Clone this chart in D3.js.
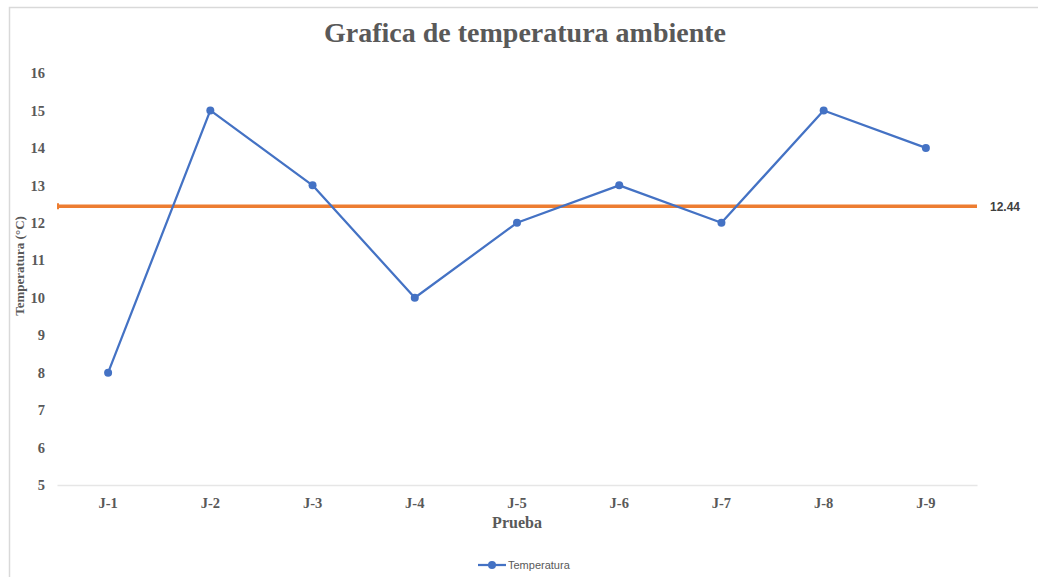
<!doctype html>
<html lang="es">
<head>
	<meta charset="UTF-8">
	<title>Grafica de temperatura ambiente</title>
	<script src="https://d3js.org/d3.v7.min.js"></script>
	<style>
		body { margin: 0; padding: 0; background: #fff; }
		svg { display: block; }
	</style>
</head>
<body>
	<div id="chart"></div>
	<script>
		// Data
		const categories = ['J-1', 'J-2', 'J-3', 'J-4', 'J-5', 'J-6', 'J-7', 'J-8', 'J-9'];
		const temperatures = [8, 15, 13, 10, 12, 13, 12, 15, 14];
		const average = [12.44];
		const yTicks = [5, 6, 7, 8, 9, 10, 11, 12, 13, 14, 15, 16];

		const width = 1038;
		const height = 577;
		const margin = { top: 73, right: 61, bottom: 92, left: 57 };

		const blue = '#4472C4';
		const orange = '#ED7D31';
		const serif = '"Liberation Serif", "Times New Roman", serif';
		const sans = '"Liberation Sans", Arial, sans-serif';

		const svg = d3.select('#chart')
			.append('svg')
			.attr('width', width)
			.attr('height', height);

		// Chart area frame (right and bottom fall outside the picture)
		svg.append('rect')
			.attr('x', 9.5)
			.attr('y', 7.5)
			.attr('width', width + 20)
			.attr('height', height + 20)
			.attr('fill', '#fff')
			.attr('stroke', '#d9d9d9')
			.attr('stroke-width', 1.5);

		const x = d3.scaleBand()
			.domain(categories)
			.range([margin.left, width - margin.right]);

		const y = d3.scaleLinear()
			.domain([5, 16])
			.range([height - margin.bottom, margin.top]);

		// Title
		svg.append('text')
			.attr('x', 525)
			.attr('y', 42)
			.attr('text-anchor', 'middle')
			.attr('font-family', serif)
			.attr('font-weight', 'bold')
			.attr('font-size', 28)
			.attr('fill', '#595959')
			.text('Grafica de temperatura ambiente');

		// X axis
		const xAxis = svg.append('g')
			.attr('transform', 'translate(0,' + y(5) + ')')
			.call(d3.axisBottom(x).tickSize(0).tickPadding(13));
		xAxis.select('.domain').attr('stroke', '#e6e6e6').attr('stroke-width', 1.5);
		xAxis.selectAll('text')
			.attr('font-family', serif)
			.attr('font-weight', 'bold')
			.attr('font-size', 14.5)
			.attr('fill', '#595959');

		// Y axis
		const yAxis = svg.append('g')
			.attr('transform', 'translate(' + margin.left + ',0)')
			.call(d3.axisLeft(y).tickValues(yTicks).tickSize(0).tickPadding(12));
		yAxis.select('.domain').remove();
		yAxis.selectAll('text')
			.attr('font-family', serif)
			.attr('font-weight', 'bold')
			.attr('font-size', 14.5)
			.attr('fill', '#595959');

		// Axis titles
		svg.append('text')
			.attr('transform', 'translate(24,' + 266 + ') rotate(-90)')
			.attr('text-anchor', 'middle')
			.attr('font-family', serif)
			.attr('font-weight', 'bold')
			.attr('font-size', 13)
			.attr('fill', '#595959')
			.text('Temperatura (°C)');

		svg.append('text')
			.attr('x', 517)
			.attr('y', 528)
			.attr('text-anchor', 'middle')
			.attr('font-family', serif)
			.attr('font-weight', 'bold')
			.attr('font-size', 16)
			.attr('fill', '#595959')
			.text('Prueba');

		// Average line
		svg.selectAll('.avg')
			.data(average)
			.enter().append('line')
			.attr('class', 'avg')
			.attr('x1', margin.left)
			.attr('x2', width - margin.right)
			.attr('y1', (d) => y(d))
			.attr('y2', (d) => y(d))
			.attr('stroke', orange)
			.attr('stroke-width', 3.5);

		svg.selectAll('.avg-cap')
			.data(average)
			.enter().append('line')
			.attr('class', 'avg-cap')
			.attr('x1', margin.left + 1)
			.attr('x2', margin.left + 1)
			.attr('y1', (d) => y(d) - 3)
			.attr('y2', (d) => y(d) + 3)
			.attr('stroke', orange)
			.attr('stroke-width', 2);

		svg.selectAll('.avg-label')
			.data(average)
			.enter().append('text')
			.attr('class', 'avg-label')
			.attr('x', 990)
			.attr('y', (d) => y(d) + 5)
			.attr('font-family', sans)
			.attr('font-weight', 'bold')
			.attr('font-size', 12)
			.attr('fill', '#404040')
			.text((d) => d.toFixed(2));

		// Temperature series
		const points = categories.map((c, i) => ({ cat: c, value: temperatures[i] }));
		const line = d3.line()
			.x((d) => x(d.cat) + x.bandwidth() / 2)
			.y((d) => y(d.value));

		svg.append('path')
			.datum(points)
			.attr('d', line)
			.attr('fill', 'none')
			.attr('stroke', blue)
			.attr('stroke-width', 2.25)
			.attr('stroke-linejoin', 'round');

		svg.selectAll('.dot')
			.data(points)
			.enter().append('circle')
			.attr('class', 'dot')
			.attr('cx', (d) => x(d.cat) + x.bandwidth() / 2)
			.attr('cy', (d) => y(d.value))
			.attr('r', 4)
			.attr('fill', blue);

		// Legend
		const legend = svg.append('g')
			.attr('transform', 'translate(478,565)');
		legend.append('line')
			.attr('x1', 0)
			.attr('x2', 28)
			.attr('stroke', blue)
			.attr('stroke-width', 2.25);
		legend.append('circle')
			.attr('cx', 14)
			.attr('r', 4)
			.attr('fill', blue);
		legend.append('text')
			.attr('x', 30)
			.attr('y', 4)
			.attr('font-family', sans)
			.attr('font-size', 11)
			.attr('fill', '#595959')
			.text('Temperatura');
	</script>
</body>
</html>
